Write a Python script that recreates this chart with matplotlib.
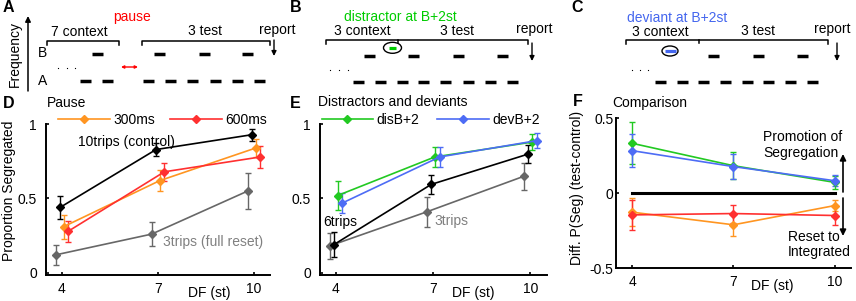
import matplotlib
matplotlib.use('Agg')
import matplotlib.pyplot as plt
from matplotlib.lines import Line2D
from matplotlib.patches import Ellipse

plt.rcParams['font.family'] = ['Liberation Sans', 'DejaVu Sans']
plt.rcParams['font.size'] = 10

# ---------------- data ----------------
DF = [4, 7, 10]
xticks = [4, 7, 10]

# Panel D (pause)
d_control = [0.44, 0.83, 0.93]
d_control_err = [0.075, 0.045, 0.04]
d_300 = [0.31, 0.62, 0.84]
d_300_err = [0.08, 0.07, 0.06]
d_600 = [0.28, 0.68, 0.78]
d_600_err = [0.07, 0.06, 0.075]
d_reset = [0.12, 0.26, 0.55]
d_reset_err = [0.07, 0.08, 0.12]

# Panel E (distractors and deviants)
e_dis = [0.52, 0.78, 0.88]
e_dis_err = [0.10, 0.065, 0.055]
e_dev = [0.47, 0.78, 0.89]
e_dev_err = [0.065, 0.065, 0.05]
e_6trips = [0.19, 0.595, 0.80]
e_6trips_err = [0.085, 0.065, 0.06]
e_3trips = [0.18, 0.41, 0.65]
e_3trips_err = [0.09, 0.10, 0.09]

# Panel F (comparison: test - control)
f_dis = [0.333, 0.184, 0.073]
f_dis_err = [0.14, 0.09, 0.045]
f_dev = [0.284, 0.178, 0.084]
f_dev_err = [0.11, 0.085, 0.035]
f_300 = [-0.126, -0.21, -0.082]
f_300_err = [0.095, 0.075, 0.035]
f_600 = [-0.144, -0.135, -0.148]
f_600_err = [0.10, 0.06, 0.065]

# Schematic tone onsets (pixel units of the sketch)
schA_A = [80, 102, 143, 165, 187, 210, 232, 254]
schA_B = [92, 154, 199, 242]
schB_A = [353, 375, 397, 418, 440, 463, 485, 507]
schB_B = [364, 408, 453, 497]
schB_dis = [389]
schC_A = [655, 677, 698, 720, 742, 763, 785, 807]
schC_B = [708, 753, 797]
schC_dev = [665]

# ---------------- style ----------------
ORANGE = '#ff9521'
RED = '#ff3030'
GREEN = '#22c922'
BLUE = '#4d6cf5'
GRAY = '#676767'
BLACK = '#000000'

W, H = 856, 301
fig = plt.figure(figsize=(W / 100, H / 100), dpi=100)


def px_axes(left, top, right, bottom):
    return fig.add_axes([left / W, 1 - bottom / H, (right - left) / W, (bottom - top) / H])


def style(ax, pad_y=6.5):
    for s in ['top', 'right']:
        ax.spines[s].set_visible(False)
    for s in ['left', 'bottom']:
        ax.spines[s].set_linewidth(1.4)
    ax.tick_params(direction='in', length=2.5, width=1.2, labelsize=10)
    ax.tick_params(axis='y', pad=pad_y)
    ax.tick_params(axis='x', pad=5)
    ax.set_xlim(3.5, 10.5)
    ax.set_xticks(xticks)
    ax.set_xticklabels([str(t) for t in xticks])


def eb(ax, x, y, err, color, z=3):
    ax.errorbar(x, y, yerr=err, color=color, marker='D', ms=4, lw=1.2,
                elinewidth=1.0, capsize=2.5, capthick=1.0, zorder=z, clip_on=False)


off = [-0.2, -0.06, 0.05, 0.2]

# ---------------- Panel D ----------------
axD = px_axes(46, 124.3, 270, 275)
style(axD)
axD.set_ylim(-0.0155, 1)
axD.set_yticks([0, 0.5, 1])
axD.set_yticklabels(['0', '0.5', '1'])
eb(axD, [x + off[0] for x in DF], d_reset, d_reset_err, GRAY)
eb(axD, [x + off[1] for x in DF], d_control, d_control_err, BLACK)
eb(axD, [x + off[2] for x in DF], d_300, d_300_err, ORANGE)
eb(axD, [x + off[3] for x in DF], d_600, d_600_err, RED)
axD.set_ylabel('Proportion Segregated')
axD.yaxis.set_label_coords(-0.135, 0.56)
axD.set_xlabel('DF (st)')
axD.xaxis.set_label_coords(0.728, -0.07)
axD.text(4.5, 0.88, '10trips (control)', color=BLACK, va='center', ha='left')
axD.text(7.15, 0.21, '3trips (full reset)', color='#808080', va='center', ha='left')
hD = [Line2D([], [], color=ORANGE, marker='D', ms=4, lw=1.2),
      Line2D([], [], color=RED, marker='D', ms=4, lw=1.2)]
axD.legend(hD, ['300ms', '600ms'], ncol=2, loc='center left', bbox_to_anchor=(0.054, 1.03),
           frameon=False, handlelength=3.75, handletextpad=0.2, columnspacing=1.1,
           borderpad=0, borderaxespad=0, fontsize=10)

# ---------------- Panel E ----------------
axE = px_axes(319.8, 124.3, 546.6, 275)
style(axE)
axE.set_ylim(-0.0155, 1)
axE.set_yticks([0, 0.5, 1])
axE.set_yticklabels(['0', '0.5', '1'])
eb(axE, [x + off[0] for x in DF], e_3trips, e_3trips_err, GRAY)
eb(axE, [x + off[1] for x in DF], e_6trips, e_6trips_err, BLACK)
eb(axE, [x + off[2] for x in DF], e_dis, e_dis_err, GREEN)
eb(axE, [x + off[3] for x in DF], e_dev, e_dev_err, BLUE)
axE.set_xlabel('DF (st)')
axE.xaxis.set_label_coords(0.675, -0.07)
axE.text(3.6, 0.34, '6trips', color=BLACK, va='center', ha='left')
axE.text(7.05, 0.35, '3trips', color='#808080', va='center', ha='left')
hE = [Line2D([], [], color=GREEN, marker='D', ms=4, lw=1.2),
      Line2D([], [], color=BLUE, marker='D', ms=4, lw=1.2)]
axE.legend(hE, ['disB+2', 'devB+2'], ncol=2, loc='center left', bbox_to_anchor=(0.008, 1.03),
           frameon=False, handlelength=3.7, handletextpad=0.25, columnspacing=1.3,
           borderpad=0, borderaxespad=0, fontsize=10)

# ---------------- Panel F ----------------
axF = px_axes(615.5, 118.3, 851.4, 268.3)
style(axF, pad_y=1.5)
axF.set_ylim(-0.5, 0.5)
axF.set_yticks([-0.5, 0, 0.5])
axF.set_yticklabels(['-0.5', '0', '0.5'])
axF.plot([DF[0], DF[-1]], [0, 0], color=BLACK, lw=2.2, zorder=2)
eb(axF, DF, f_300, f_300_err, ORANGE)
eb(axF, DF, f_600, f_600_err, RED)
eb(axF, DF, f_dis, f_dis_err, GREEN)
eb(axF, DF, f_dev, f_dev_err, BLUE)
axF.set_ylabel('Diff. P(Seg) (test-control)')
axF.yaxis.set_label_coords(-0.134, 0.535)
axF.set_xlabel('DF (st)')
axF.xaxis.set_label_coords(0.663, -0.07)

# ---------------- overlay (schematics, titles, letters) ----------------
ov = fig.add_axes([0, 0, 1, 1])
ov.set_xlim(0, W)
ov.set_ylim(H, 0)
ov.axis('off')

for lab, x, y in [('A', 3, 8), ('B', 290, 8), ('C', 571, 8), ('D', 3, 103), ('E', 290, 103), ('F', 573, 102)]:
    ov.text(x, y, lab, fontsize=11.5, fontweight='bold', va='center', ha='left')

ov.text(47, 103, 'Pause', va='center', ha='left')
ov.text(318, 102, 'Distractors and deviants', va='center', ha='left')
ov.text(612, 103, 'Comparison', va='center', ha='left')

ov.text(763, 137, 'Promotion of', va='center', ha='left')
ov.text(763, 153, 'Segregation', va='center', ha='left')
ov.text(788, 237, 'Reset to', va='center', ha='left')
ov.text(788, 252, 'Integrated', va='center', ha='left')
ov.annotate('', xy=(843, 154), xytext=(843, 192),
            arrowprops=dict(arrowstyle='-|>', color='k', lw=1.2, mutation_scale=9, shrinkA=0, shrinkB=0))
ov.annotate('', xy=(843, 236), xytext=(843, 198),
            arrowprops=dict(arrowstyle='-|>', color='k', lw=1.2, mutation_scale=9, shrinkA=0, shrinkB=0))


def tones(xs, y, w=11, color='k', lw=2.5):
    for x in xs:
        ov.plot([x, x + w], [y, y], color=color, lw=lw, solid_capstyle='butt')


def bracket(x0, x1, y, mids=()):
    ov.plot([x0, x0, x1, x1], [y + 4, y, y, y + 4], color='k', lw=1.1)
    for m in mids:
        ov.plot([m, m], [y, y + 3], color='k', lw=1.1)


def down_arrow(x, y0, y1):
    ov.annotate('', xy=(x, y1), xytext=(x, y0),
                arrowprops=dict(arrowstyle='-|>', color='k', lw=1.0, mutation_scale=7, shrinkA=0, shrinkB=0))


def dots(xs, y):
    ov.plot(xs, [y] * len(xs), linestyle='none', marker='s', ms=0.8, mew=0, color='k')


# Panel A schematic
ov.annotate('', xy=(28, 16), xytext=(28, 91),
            arrowprops=dict(arrowstyle='-|>', color='k', lw=1.1, mutation_scale=8, shrinkA=0, shrinkB=0))
ov.text(15, 54, 'Frequency', rotation=90, va='center', ha='center')
ov.text(38, 53, 'B', va='center', ha='left')
ov.text(38, 81, 'A', va='center', ha='left')
dots([58, 67, 75], 68)
tones(schA_A, 81)
tones(schA_B, 54)
ov.annotate('', xy=(121, 67), xytext=(138, 67),
            arrowprops=dict(arrowstyle='<|-|>', color='red', lw=1.0, mutation_scale=4, shrinkA=0, shrinkB=0))
bracket(47, 119, 41)
bracket(142, 270, 41)
ov.text(79, 32, '7 context', va='center', ha='center')
ov.text(205, 31, '3 test', va='center', ha='center')
ov.text(277, 30, 'report', va='center', ha='center')
ov.text(132, 17, 'pause', color='red', va='center', ha='center')
down_arrow(274, 40, 56)

# Panel B schematic
dots([330, 339, 348], 70)
tones(schB_A, 82)
tones(schB_B, 56)
tones(schB_dis, 48.3, w=7, color='#00cc00', lw=2.3)
ov.add_patch(Ellipse((392.5, 47.8), 18, 11, fill=False, ec='k', lw=1.0))
bracket(326, 528, 40, mids=[398])
ov.text(362, 31, '3 context', va='center', ha='center')
ov.text(457, 31, '3 test', va='center', ha='center')
ov.text(534, 29, 'report', va='center', ha='center')
ov.text(400, 17, 'distractor at B+2st', color='#00cc00', va='center', ha='center')
down_arrow(532, 43, 61)

# Panel C schematic
dots([632, 640, 648], 70)
tones(schC_A, 82)
tones(schC_B, 56)
tones(schC_dev, 51, w=11, color='#4466ee', lw=2.3)
ov.add_patch(Ellipse((670, 51), 16, 10, fill=False, ec='k', lw=1.0))
bracket(626, 828, 40, mids=[699])
ov.text(660, 32, '3 context', va='center', ha='center')
ov.text(758, 31, '3 test', va='center', ha='center')
ov.text(832, 29, 'report', va='center', ha='center')
ov.text(677, 18, 'deviant at B+2st', color='#4466ee', va='center', ha='center')
down_arrow(837, 43, 61)

fig.savefig('out.png', dpi=100)
